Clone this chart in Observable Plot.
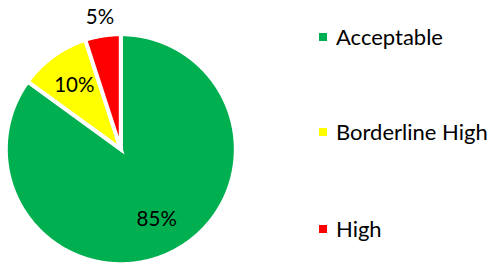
<!DOCTYPE html>
<html>
<head>
<meta charset="utf-8">
<script src="https://cdn.jsdelivr.net/npm/d3@7"></script>
<script src="https://cdn.jsdelivr.net/npm/@observablehq/plot@0.6"></script>
<style>
  html, body { margin: 0; padding: 0; background: #fff; }
  #wrap { position: relative; width: 489px; height: 264px; overflow: hidden; font-family: Lato, "Open Sans", sans-serif; }
  #wrap svg { position: absolute; left: 0; top: 0; }
  .item { position: absolute; left: 319px; height: 22px; line-height: 22px; display: flex; align-items: center; font-size: 22px; color: #000; white-space: nowrap; }
  .sw { width: 7.5px; height: 7.5px; margin-right: 9.5px; flex: none; }
</style>
</head>
<body>
<div id="wrap"></div>
<script>
// ---- data ----
const categories = ["Acceptable", "Borderline High", "High"];
const values = [85, 10, 5];
const colors = ["#00B050", "#FFFF00", "#FF0000"];
const labels = ["85%", "10%", "5%"];

// ---- build slices from the data with d3.pie ----
const rows = categories.map((c, i) => ({category: c, value: values[i], label: labels[i]}));
const arcs = d3.pie().sort(null).value(d => d.value)(rows);

const polys = [];
for (const a of arcs) {
  polys.push({category: a.data.category, x: 0, y: 0});
  const n = Math.max(2, Math.ceil((a.endAngle - a.startAngle) / (Math.PI / 360)));
  for (let k = 0; k <= n; k++) {
    const t = a.startAngle + (a.endAngle - a.startAngle) * k / n;
    polys.push({category: a.data.category, x: Math.sin(t), y: Math.cos(t)});
  }
}

const labelPts = arcs.map(a => {
  const mid = (a.startAngle + a.endAngle) / 2;
  const share = (a.endAngle - a.startAngle) / (2 * Math.PI);
  const r = share < 0.07 ? 1.157 : 0.688;
  return {x: Math.sin(mid) * r, y: Math.cos(mid) * r, text: a.data.label};
});

const chart = Plot.plot({
  width: 489,
  height: 264,
  marginLeft: 5.3,
  marginRight: 253.7,
  marginTop: 33.7,
  marginBottom: 0.3,
  x: {domain: [-1, 1], axis: null},
  y: {domain: [-1, 1], axis: null},
  color: {domain: categories, range: colors},
  style: {background: "#fff", fontFamily: "Lato, 'Open Sans', sans-serif"},
  marks: [
    Plot.line(polys, {x: "x", y: "y", z: "category", fill: "category", stroke: "white", strokeWidth: 4, curve: "linear-closed", strokeLinejoin: "miter", strokeMiterlimit: 4}),
    Plot.text(labelPts, {x: "x", y: "y", text: "text", fontSize: 20.5, fill: "#000", textAnchor: "middle"})
  ]
});

const wrap = document.getElementById("wrap");
wrap.appendChild(chart);

const legendTops = [26, 121, 218];
categories.forEach((c, i) => {
  const it = document.createElement("div");
  it.className = "item";
  it.style.top = legendTops[i] + "px";
  const sw = document.createElement("span");
  sw.className = "sw";
  sw.style.background = colors[i];
  const tx = document.createElement("span");
  tx.textContent = c;
  it.appendChild(sw);
  it.appendChild(tx);
  wrap.appendChild(it);
});
</script>
</body>
</html>
